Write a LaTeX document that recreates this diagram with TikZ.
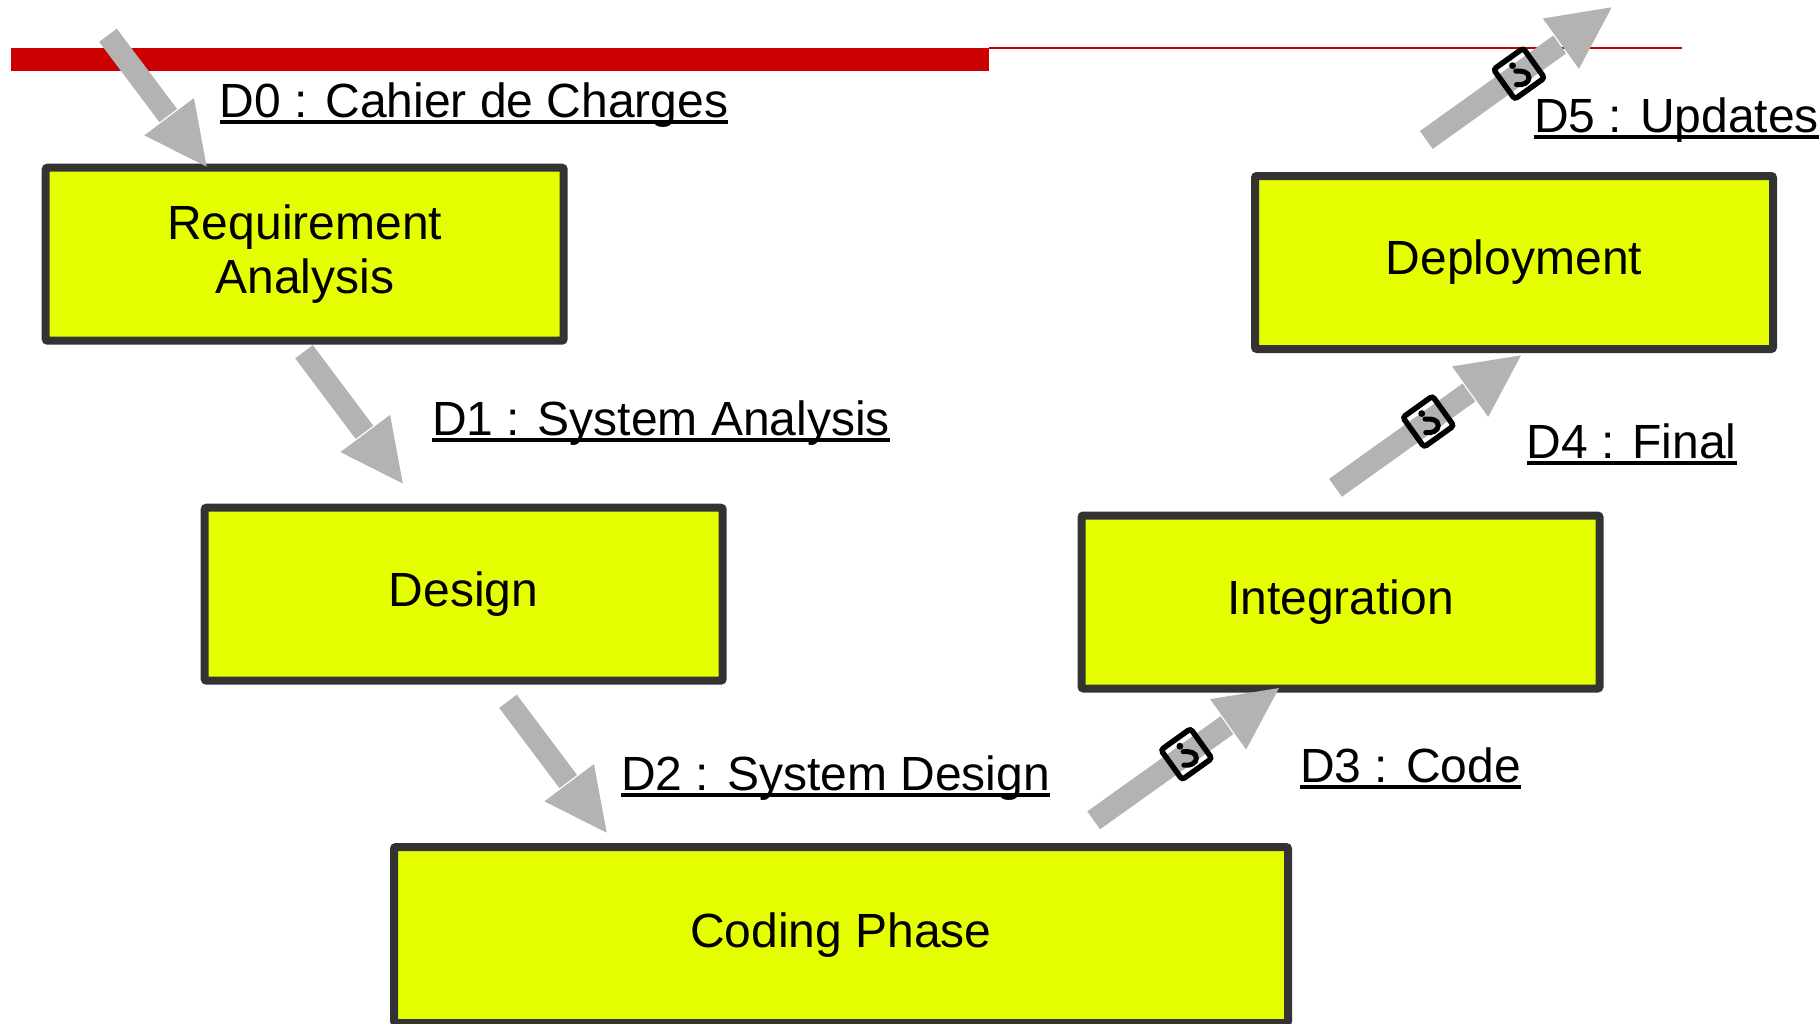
\documentclass[tikz,border=0pt]{standalone}
\usepackage{fontspec}
\setmainfont{Liberation Sans}
\usetikzlibrary{calc}
\definecolor{boxfill}{HTML}{E6FF00}
\definecolor{boxline}{HTML}{333333}
\definecolor{arrowgray}{HTML}{B3B3B3}
\definecolor{barred}{HTML}{CC0000}
\newcommand\ulabel[1]{\setbox0\hbox{#1}\rlap{\rule[-6.5pt]{\wd0}{3.6pt}}\box0 }
\newcommand\fatarrow[2]{%
  \draw[shaftline] (#1) -- ($(#2)!64pt!(#1)$);
  \fill[arrowgray] (#2) -- ($(#2)!62.5pt!(#1)!31pt!90:(#2)$) -- ($(#2)!62.5pt!(#1)!31pt!-90:(#2)$) -- cycle;
}
\newcommand\hookmark[1]{%
  \begin{scope}[shift={(#1.center)}]
    \fill (-6.5,-8) circle (3.4);
    \draw[line width=5pt,line cap=round] (-3.2,-2.5) .. controls (3,-3) and (10,-2) .. (10,4) .. controls (10,9) and (4,12) .. (-2.5,11);
  \end{scope}
}
\tikzset{
  x=1pt,y=-1pt,
  stage/.style={draw=boxline,fill=boxfill,line width=8pt,rounded corners=2pt,minimum width=518pt,minimum height=173pt,inner sep=0pt,align=center,font=\fontsize{48}{54}\selectfont},
  dlabel/.style={anchor=base west,inner sep=0pt,font=\fontsize{48}{54}\selectfont},
  shaftline/.style={draw=arrowgray,line width=22pt},
  badge/.style={draw=black,line width=5.5pt,rounded corners=3pt,minimum size=36.5pt,inner sep=0pt,rotate=35.6}
}
\begin{document}
\begin{tikzpicture}
\fill[white] (0,0) rectangle (1820,1023);
\useasboundingbox (0,0) rectangle (1820,1023);
\fill[barred] (11,47.5) rectangle (989,70.8);
\draw[barred,line width=1.8pt] (989,48.3) -- (1682,48.3);

\node[stage] (req) at (304.7,254.2) {Requirement\\Analysis};
\node[stage] (des) at (463.7,594.2) {Design};
\node[stage,minimum width=894pt,minimum height=176pt] (cod) at (841,935) {Coding Phase};
\node[stage] (int) at (1340.5,602) {Integration};
\node[stage] (dep) at (1514,262.5) {Deployment};

\coordinate (a0) at (108,35.3);      \coordinate (t0) at (206.7,166.7);
\coordinate (a1) at (304,351.7);     \coordinate (t1) at (402.8,483.5);
\coordinate (a2) at (508,701.3);     \coordinate (t2) at (606.7,832.7);
\coordinate (a3) at (1093.7,820.3);  \coordinate (t3) at (1279,688);
\coordinate (a4) at (1335.5,487.8);  \coordinate (t4) at (1521,355.3);
\coordinate (a5) at (1426.3,140);    \coordinate (t5) at (1611.7,7.3);

\fatarrow{a0}{t0}
\fatarrow{a1}{t1}
\fatarrow{a2}{t2}
\fatarrow{a3}{t3}
\fatarrow{a4}{t4}
\fatarrow{a5}{t5}

\node[badge] (b3) at ($(a3)!0.5!(t3)$) {};
\node[badge] (b4) at ($(a4)!0.5!(t4)$) {};
\node[badge] (b5) at ($(a5)!0.5!(t5)$) {};
\hookmark{b3}
\hookmark{b4}
\hookmark{b5}

\node[dlabel] (l0) at (219.4,117) {\ulabel{D0 : Cahier de Charges}};
\node[dlabel] (l1) at (431.8,435) {\ulabel{D1 : System Analysis}};
\node[dlabel] (l2) at (621,790) {\ulabel{D2 : System Design}};
\node[dlabel] (l3) at (1300,782) {\ulabel{D3 : Code}};
\node[dlabel] (l4) at (1526.5,458) {\ulabel{D4 : Final}};
\node[dlabel] (l5) at (1534,132) {\ulabel{D5 : Updates}};
\end{tikzpicture}
\end{document}
